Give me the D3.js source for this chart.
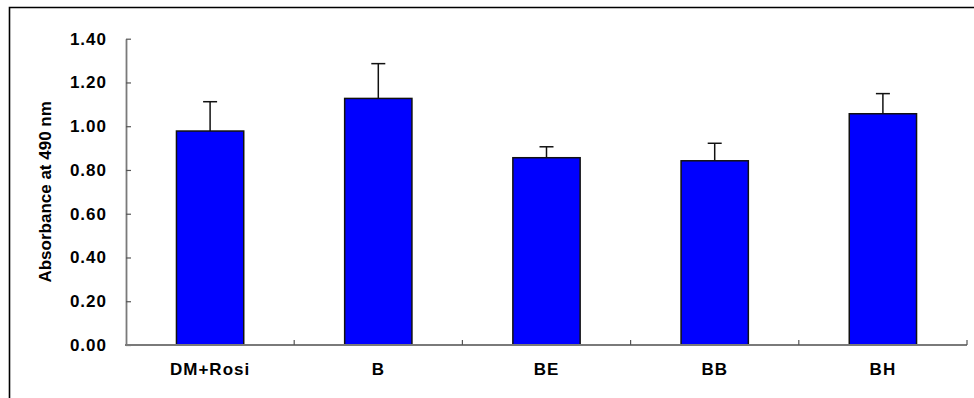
<!DOCTYPE html>
<html>
<head>
<meta charset="utf-8">
<script src="https://cdn.jsdelivr.net/npm/d3@7"></script>
<style>
  html, body { margin: 0; padding: 0; background: #fff; }
  svg { display: block; }
  text { font-family: "Liberation Sans", Arial, sans-serif; font-weight: bold; fill: #000; }
</style>
</head>
<body>
<svg id="chart" width="974" height="398"></svg>
<script>
// Group labels and mean absorbance with the upper error (SD)
const categories = ["DM+Rosi", "B", "BE", "BB", "BH"];
const means = [0.978, 1.127, 0.856, 0.842, 1.057];
const errors = [0.134, 0.159, 0.050, 0.080, 0.092];
const yTicks = [0.00, 0.20, 0.40, 0.60, 0.80, 1.00, 1.20, 1.40];
const yLabel = "Absorbance at 490 nm";

(function draw() {
  const svg = d3.select("#chart");
  const W = 974, H = 398;
  const plotLeft = 126, plotRight = 967, plotTop = 38.7, plotBottom = 345;

  // Frame around the figure
  svg.append("path")
    .attr("d", `M9.5,${H + 2}V7.5H${W + 2}`)
    .attr("fill", "none")
    .attr("stroke", "#000")
    .attr("stroke-width", 1.6);

  const x = d3.scaleBand()
    .domain(categories)
    .range([plotLeft, plotRight])
    .paddingInner(0.6)
    .paddingOuter(0.3);

  const y = d3.scaleLinear()
    .domain([0, 1.4])
    .range([plotBottom, plotTop]);

  // Bars
  svg.append("g").selectAll("rect")
    .data(categories)
    .join("rect")
    .attr("x", d => x(d))
    .attr("y", (d, i) => y(means[i]))
    .attr("width", x.bandwidth())
    .attr("height", (d, i) => y(0) - y(means[i]))
    .attr("fill", "#0000ff")
    .attr("stroke", "#111")
    .attr("stroke-width", 1.5);

  // Upper error bars
  const eb = svg.append("g").attr("stroke", "#111").attr("stroke-width", 1.5);
  categories.forEach((c, i) => {
    const cx = x(c) + x.bandwidth() / 2;
    eb.append("line")
      .attr("x1", cx).attr("x2", cx)
      .attr("y1", y(means[i])).attr("y2", y(means[i] + errors[i]));
    eb.append("line")
      .attr("x1", cx - 7).attr("x2", cx + 7)
      .attr("y1", y(means[i] + errors[i])).attr("y2", y(means[i] + errors[i]));
  });

  // Y axis with inward ticks
  const yAxis = svg.append("g")
    .attr("transform", `translate(${plotLeft},0)`)
    .call(d3.axisLeft(y).tickValues(yTicks).tickFormat(d3.format(".2f"))
      .tickSizeInner(-5).tickSizeOuter(0).tickPadding(19));
  yAxis.select(".domain").attr("stroke", "#7a7a7a").attr("stroke-width", 1.8);
  yAxis.selectAll(".tick line").attr("stroke", "#555").attr("stroke-width", 1.2);
  yAxis.selectAll("text").style("font-size", "17px").style("letter-spacing", "1px").attr("fill", "#000");

  // X axis: category labels, ticks at group boundaries
  const xAxis = svg.append("g")
    .attr("transform", `translate(0,${plotBottom})`)
    .call(d3.axisBottom(x).tickSize(0).tickPadding(18));
  xAxis.select(".domain").remove();
  xAxis.selectAll("text").style("font-size", "17px").style("letter-spacing", "1px").attr("fill", "#000");

  const step = x.step();
  const bounds = d3.range(categories.length + 1).map(k => plotLeft + k * step);
  svg.append("line")
    .attr("x1", plotLeft - 1).attr("x2", plotRight)
    .attr("y1", plotBottom).attr("y2", plotBottom)
    .attr("stroke", "#7a7a7a").attr("stroke-width", 1.8);
  svg.append("g").selectAll("line")
    .data(bounds.slice(1))
    .join("line")
    .attr("x1", d => d).attr("x2", d => d)
    .attr("y1", plotBottom).attr("y2", plotBottom - 5)
    .attr("stroke", "#555").attr("stroke-width", 1.2);

  // Y axis title
  svg.append("text")
    .attr("transform", `translate(51,${(plotTop + plotBottom) / 2}) rotate(-90)`)
    .attr("text-anchor", "middle")
    .style("font-size", "17px")
    .text(yLabel);
})();
</script>
</body>
</html>
